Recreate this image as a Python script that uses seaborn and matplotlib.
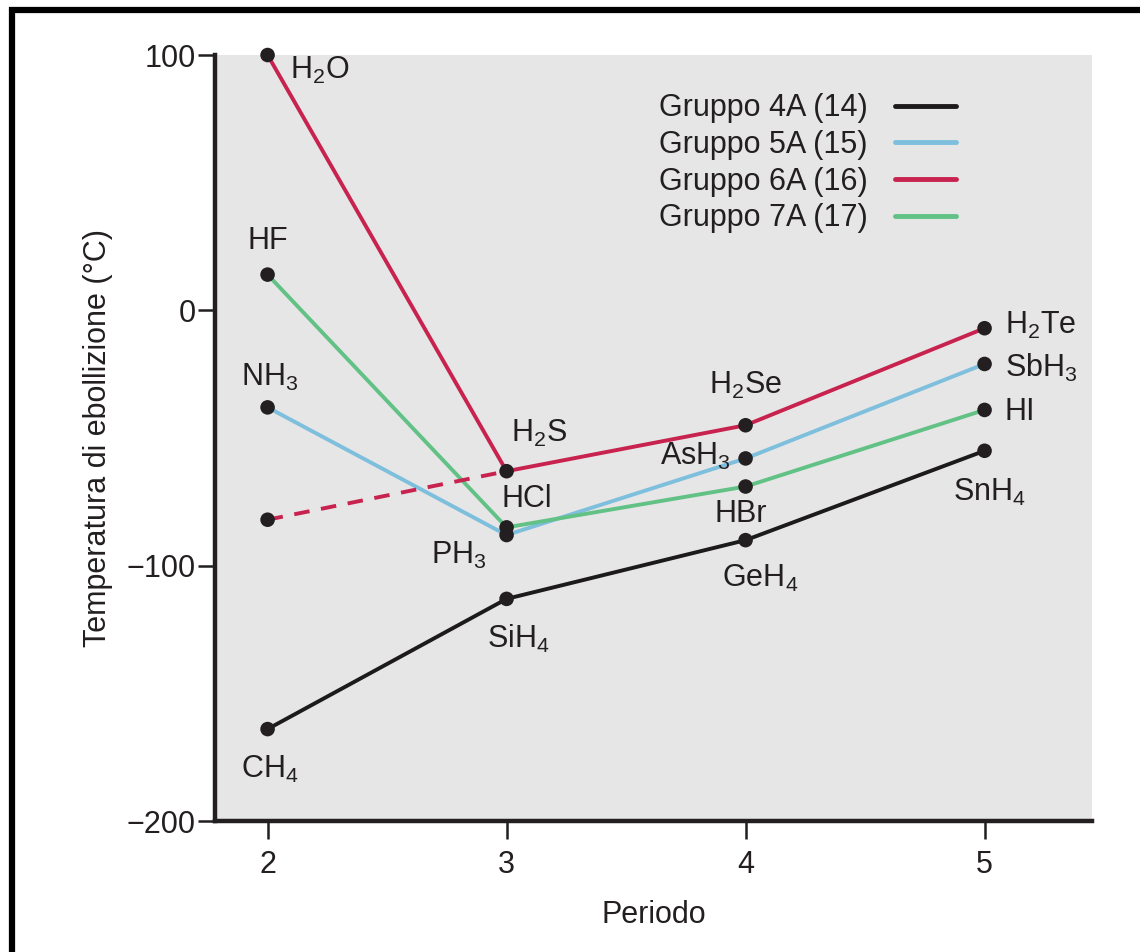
# Temperatura di ebollizione degli idruri per periodo

import pandas as pd
import matplotlib.pyplot as plt
import seaborn as sns
from matplotlib.lines import Line2D
from matplotlib.patches import Rectangle

periodi = [2, 3, 4, 5]
gruppi = ['Gruppo 4A (14)', 'Gruppo 5A (15)', 'Gruppo 6A (16)', 'Gruppo 7A (17)']
temp_4a = [-164, -113, -90, -55]
temp_5a = [-38, -88, -58, -21]
temp_6a = [100, -63, -45, -7]
temp_7a = [14, -85, -69, -39]
# valore "atteso" per H2O (estrapolato, tratteggiato)
temp_h2o_atteso = -82

nomi_4a = [r'CH$_4$', r'SiH$_4$', r'GeH$_4$', r'SnH$_4$']
nomi_5a = [r'NH$_3$', r'PH$_3$', r'AsH$_3$', r'SbH$_3$']
nomi_6a = [r'H$_2$O', r'H$_2$S', r'H$_2$Se', r'H$_2$Te']
nomi_7a = ['HF', 'HCl', 'HBr', 'HI']

colori = ['#1c1a1b', '#7dbfdc', '#c8224f', '#62c286']
nero = '#231f20'

sns.set_style('white')
plt.rcParams['font.family'] = ['Liberation Sans', 'DejaVu Sans']
plt.rcParams['mathtext.fontset'] = 'custom'
plt.rcParams['mathtext.rm'] = 'Liberation Sans'
plt.rcParams['mathtext.default'] = 'regular'
plt.rcParams['text.color'] = nero
plt.rcParams['axes.labelcolor'] = nero

df = pd.DataFrame({
    'periodo': periodi * 4,
    'temp': temp_4a + temp_5a + temp_6a + temp_7a,
    'gruppo': [g for g in gruppi for _ in periodi],
})
df_dash = pd.DataFrame({'periodo': [2, 3], 'temp': [temp_h2o_atteso, temp_6a[1]]})

fig = plt.figure(figsize=(11.4, 9.52), dpi=100)
ax = fig.add_axes([0.1886, 0.1376, 0.7694, 0.8046])
ax.set_facecolor('#e6e6e6')

sns.lineplot(data=df, x='periodo', y='temp', hue='gruppo', palette=colori,
             linewidth=2.8, legend=False, ax=ax, zorder=2)
sns.lineplot(data=df_dash, x='periodo', y='temp', color=colori[2], linewidth=2.8,
             linestyle=(0, (4, 3)), ax=ax, zorder=2)
sns.scatterplot(x=df['periodo'], y=df['temp'], color=nero, s=110,
                edgecolor='none', ax=ax, zorder=3, clip_on=False)
sns.scatterplot(x=[2], y=[temp_h2o_atteso], color=nero, s=110,
                edgecolor='none', ax=ax, zorder=3)

# etichette dei composti: (nomi, valori, offset in pixel, allineamento)
fs = 22
offs_4a = [(2, -40), (12, -40), (15, -38), (5, -42)]
offs_5a = [(2, 30), (-48, -20), (-15, 2), (20, -4)]
offs_6a = [(22, -15), (32, 38), (0, 40), (20, 3)]
offs_7a = [(0, 34), (20, 28), (-5, -27), (20, -2)]
ha_4a = ['center', 'center', 'center', 'center']
ha_5a = ['center', 'center', 'right', 'left']
ha_6a = ['left', 'center', 'center', 'left']
ha_7a = ['center', 'center', 'center', 'left']
for nomi, vals, offs, has in [(nomi_4a, temp_4a, offs_4a, ha_4a),
                              (nomi_5a, temp_5a, offs_5a, ha_5a),
                              (nomi_6a, temp_6a, offs_6a, ha_6a),
                              (nomi_7a, temp_7a, offs_7a, ha_7a)]:
    for p, v, n, o, h in zip(periodi, vals, nomi, offs, has):
        ax.annotate(n, (p, v), xytext=o, textcoords='offset pixels',
                    ha=h, va='center', fontsize=fs, color=nero)

ax.set_xlim(1.78, 5.45)
ax.set_ylim(-200, 100)
ax.set_xticks(periodi)
ax.set_yticks([-200, -100, 0, 100])
ax.set_xlabel('Periodo', fontsize=fs, labelpad=14)
ax.set_ylabel('Temperatura di ebollizione (°C)', fontsize=fs, labelpad=10)

sns.despine(ax=ax)
for s in ['left', 'bottom']:
    ax.spines[s].set_linewidth(3.2)
    ax.spines[s].set_color(nero)
ax.tick_params(axis='y', direction='out', length=12, width=1.8, pad=2,
               labelsize=fs, color=nero, labelcolor=nero, left=True)
ax.tick_params(axis='x', direction='out', length=13, width=1.8, pad=8,
               labelsize=fs, color=nero, labelcolor=nero, bottom=True)

handles = [Line2D([0], [0], color=c, linewidth=3.5) for c in colori]
ax.legend(handles, gruppi, loc='upper right', bbox_to_anchor=(0.845, 0.95),
          frameon=False, markerfirst=False, fontsize=fs, handlelength=2.0,
          handletextpad=0.9, labelspacing=0.22, borderpad=0, borderaxespad=0)

# cornice nera intorno alla figura
fig.patches.append(Rectangle((0.0105, -0.05), 1.1, 1.0395, transform=fig.transFigure,
                             fill=False, linewidth=4.5, edgecolor='black', clip_on=False))

fig.savefig('out.png', dpi=100)
